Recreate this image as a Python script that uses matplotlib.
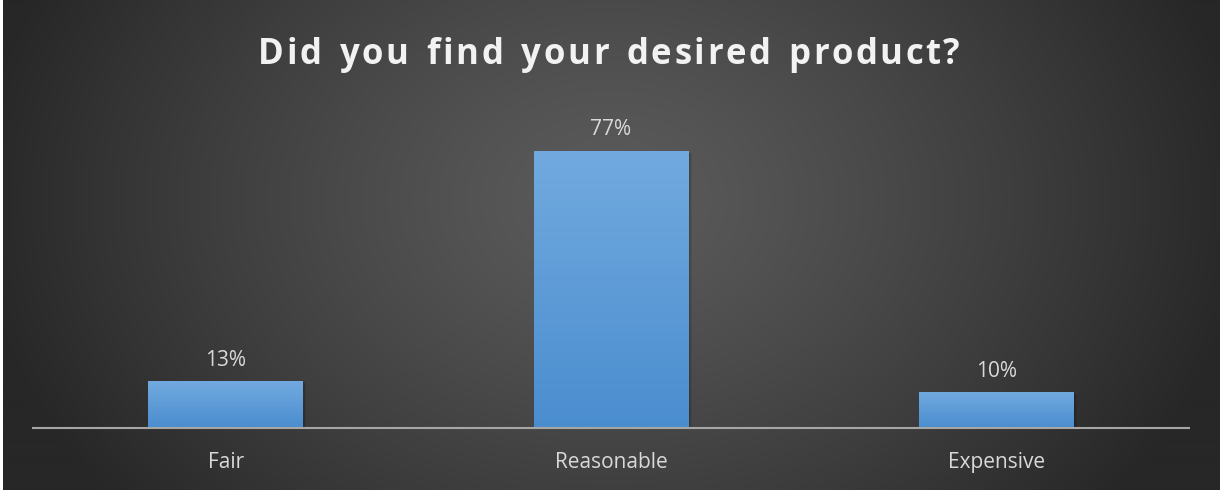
import numpy as np
import matplotlib.pyplot as plt
from matplotlib.colors import LinearSegmentedColormap

categories = ["Fair", "Reasonable", "Expensive"]
shares = [13, 77, 10]
value_labels = ["13%", "77%", "10%"]
title = "Did you find your desired product?"

W, H = 1225, 494
fig = plt.figure(figsize=(W / 100, H / 100), dpi=100, facecolor="white")
FONT = ["Open Sans", "DejaVu Sans"]

# radial dark background
bg = fig.add_axes([3 / W, 4 / H, 1217 / W, 490 / H])
yy, xx = np.mgrid[0:490, 0:1217]
r = np.sqrt(((xx - 608) / 640.0) ** 2 + ((yy - 200) / 480.0) ** 2)
shade = np.clip(1 - r ** 1.25, 0, 1)
bg_cmap = LinearSegmentedColormap.from_list("bg", ["#272727", "#5b5b5b"])
bg.imshow(shade, cmap=bg_cmap, aspect="auto", vmin=0, vmax=1)
bg.axis("off")

ax = fig.add_axes([33 / W, (H - 428) / H, 1156 / W, 328 / H])
ax.set_facecolor("none")
x = np.arange(len(categories))
bars = ax.bar(x, shares, width=0.402, color="#5b9bd5", zorder=2)
ax.set_xlim(-0.5, 2.5)
ax.set_ylim(0, 328 / 3.6)

bar_cmap = LinearSegmentedColormap.from_list("bar", ["#4a8dcf", "#72aadf"])
grad = np.linspace(0, 1, 256).reshape(-1, 1)
for b in bars:
    x0, w, h = b.get_x(), b.get_width(), b.get_height()
    # soft shadow, mostly on the right side of the bar
    for k in range(1, 4):
        d = 0.002 * k
        ax.add_patch(plt.Rectangle((x0 + 0.002, 0), w + d, h - 0.25 * k,
                                   color="black", alpha=0.07, zorder=1, lw=0))
    im = ax.imshow(grad, cmap=bar_cmap, aspect="auto", origin="lower",
                   extent=(x0, x0 + w, 0, h), zorder=3)
    im.set_clip_path(b)

for xi, v, lab in zip(x, shares, value_labels):
    ax.annotate(lab, (xi, v), xytext=(0, 7.5), textcoords="offset points",
                ha="center", va="bottom", color="#d9d9d9", fontsize=15,
                family=FONT)

for s in ["top", "right", "left"]:
    ax.spines[s].set_visible(False)
ax.spines["bottom"].set_color("#a6a6a6")
ax.spines["bottom"].set_linewidth(1.5)
ax.spines["bottom"].set_zorder(4)
ax.set_yticks([])
ax.set_xticks(x)
ax.set_xticklabels(categories, color="#d9d9d9", fontsize=15, family=FONT)
ax.tick_params(axis="x", length=0, pad=17.5)

# title drawn letter by letter to get the wide tracking
renderer = fig.canvas.get_renderer()
title_style = dict(color="#f2f2f2", fontsize=25, fontweight="bold", family=FONT)
track = 2.6
widths = []
for ch in title:
    t = fig.text(0, 0, ch if ch != " " else "n", **title_style)
    widths.append(t.get_window_extent(renderer).width * (0.55 if ch == " " else 1))
    t.remove()
total = sum(widths) + track * (len(title) - 1)
cx = 609 - total / 2
for ch, w in zip(title, widths):
    fig.text(cx / W, 1 - 64 / H, ch, ha="left", va="baseline", **title_style)
    cx += w + track

fig.savefig("out.png", dpi=100, facecolor=fig.get_facecolor())
